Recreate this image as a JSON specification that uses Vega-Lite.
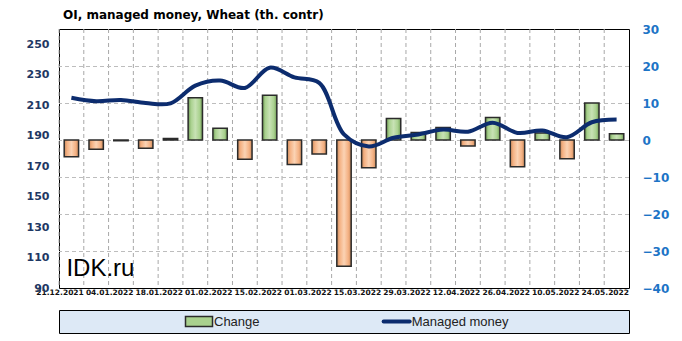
{
  "$schema": "https://vega.github.io/schema/vega-lite/v6.json",
  "background": "white",
  "padding": {"left": 25, "top": 8, "right": 0, "bottom": 0},
  "spacing": 13,
  "config": {
    "view": {"stroke": "black"}
  },
  "datasets": {
    "weekly": [
      {"date": "21.12.2021", "change": -4.5, "mm": 214.9},
      {"date": "28.12.2021", "change": -2.5, "mm": 212.6},
      {"date": "04.01.2022", "change": -0.2, "mm": 213.4},
      {"date": "11.01.2022", "change": -2.2, "mm": 211.4},
      {"date": "18.01.2022", "change": 0.4, "mm": 211.2},
      {"date": "25.01.2022", "change": 11.4, "mm": 222.8},
      {"date": "01.02.2022", "change": 3.2, "mm": 226.2},
      {"date": "08.02.2022", "change": -5.2, "mm": 221.3},
      {"date": "15.02.2022", "change": 12.1, "mm": 234.6},
      {"date": "22.02.2022", "change": -6.6, "mm": 228.2},
      {"date": "01.03.2022", "change": -3.8, "mm": 224.6},
      {"date": "08.03.2022", "change": -34.1, "mm": 190.8},
      {"date": "15.03.2022", "change": -7.5, "mm": 182.9},
      {"date": "22.03.2022", "change": 5.8, "mm": 188.6},
      {"date": "29.03.2022", "change": 2.0, "mm": 190.8},
      {"date": "05.04.2022", "change": 3.4, "mm": 194.0},
      {"date": "12.04.2022", "change": -1.6, "mm": 192.6},
      {"date": "19.04.2022", "change": 6.1, "mm": 198.5},
      {"date": "26.04.2022", "change": -7.2, "mm": 191.8},
      {"date": "03.05.2022", "change": 1.9, "mm": 193.4},
      {"date": "10.05.2022", "change": -5.1, "mm": 189.0},
      {"date": "17.05.2022", "change": 10.0, "mm": 198.8},
      {"date": "24.05.2022", "change": 1.7, "mm": 200.6}
    ],
    "gridlines": [
      {"level": -30}, {"level": -20}, {"level": -10}, {"level": 0}, {"level": 10}, {"level": 20}
    ],
    "legend": [
      {"series": "Change"},
      {"series": "Managed money"}
    ],
    "mark": [
      {"label": "IDK.ru"}
    ]
  },
  "vconcat": [
    {
      "width": 570,
      "height": 259,
      "title": {
        "text": "OI, managed money, Wheat (th. contr)",
        "anchor": "start",
        "frame": "group",
        "font": "DejaVu Sans",
        "fontSize": 12,
        "fontWeight": "bold",
        "color": "#000000",
        "offset": 1,
        "dx": 4
      },
      "view": {"stroke": "black", "strokeWidth": 1},
      "data": {"name": "weekly"},
      "layer": [
        {
          "mark": {"type": "rule", "stroke": "#a8a8a8", "strokeWidth": 1, "strokeDash": [4, 3], "xOffset": -12.39},
          "encoding": {
            "x": {"field": "date", "type": "ordinal", "sort": null}
          }
        },
        {
          "data": {"name": "gridlines"},
          "mark": {"type": "rule", "stroke": "#bdbdbd", "strokeWidth": 1, "strokeDash": [4, 3], "yOffset": 0.5},
          "encoding": {
            "y": {"field": "level", "type": "quantitative", "scale": {"domain": [-40, 30], "nice": false}, "axis": null}
          }
        },
        {
          "mark": {"type": "bar", "width": {"band": 0.58}, "stroke": "#2b2b2b", "strokeWidth": 1.5},
          "encoding": {
            "x": {
              "field": "date",
              "type": "ordinal",
              "sort": null,
              "scale": {"paddingInner": 0, "paddingOuter": 0},
              "axis": {
                "title": null,
                "domain": false,
                "ticks": false,
                "grid": false,
                "bandPosition": 0,
                "labelOffset": 12.4,
                "labelAngle": 0,
                "labelOverlap": false,
                "labelFont": "DejaVu Sans",
                "labelFontSize": 7.5,
                "labelFontWeight": "bold",
                "labelColor": "#111111",
                "labelPadding": 4,
                "labelExpr": "indexof(['21.12.2021','04.01.2022','18.01.2022','01.02.2022','15.02.2022','01.03.2022','15.03.2022','29.03.2022','12.04.2022','26.04.2022','10.05.2022','24.05.2022'], datum.value) >= 0 ? datum.label : ''"
              }
            },
            "y": {
              "field": "change",
              "type": "quantitative",
              "scale": {"domain": [-40, 30], "nice": false},
              "axis": {
                "orient": "right",
                "title": null,
                "domain": false,
                "ticks": false,
                "grid": false,
                "values": [-40, -30, -20, -10, 0, 10, 20, 30],
                "labelOverlap": false,
                "labelFont": "DejaVu Sans",
                "labelFontSize": 12,
                "labelFontWeight": "bold",
                "labelColor": "#1d74c6",
                "labelPadding": 13,
                "labelAlign": "left",
                "labelFlush": false
              }
            },
            "fill": {
              "condition": {
                "test": "datum.change < 0",
                "value": {
                  "gradient": "linear", "x1": 0, "y1": 0, "x2": 1, "y2": 0,
                  "stops": [
                    {"offset": 0, "color": "#c98a5c"},
                    {"offset": 0.2, "color": "#f4b183"},
                    {"offset": 0.5, "color": "#fbd3b4"},
                    {"offset": 0.8, "color": "#f4b183"},
                    {"offset": 1, "color": "#c98a5c"}
                  ]
                }
              },
              "value": {
                "gradient": "linear", "x1": 0, "y1": 0, "x2": 1, "y2": 0,
                "stops": [
                  {"offset": 0, "color": "#6f9a55"},
                  {"offset": 0.2, "color": "#a9d18e"},
                  {"offset": 0.5, "color": "#c8e2b5"},
                  {"offset": 0.8, "color": "#a9d18e"},
                  {"offset": 1, "color": "#6f9a55"}
                ]
              }
            }
          }
        },
        {
          "mark": {"type": "line", "interpolate": "catmull-rom", "strokeWidth": 4, "color": "#0c2c6e"},
          "encoding": {
            "x": {"field": "date", "type": "ordinal", "sort": null},
            "y": {
              "field": "mm",
              "type": "quantitative",
              "scale": {"domain": [90, 260], "nice": false, "zero": false},
              "axis": {
                "orient": "left",
                "title": null,
                "domain": false,
                "ticks": false,
                "values": [90, 110, 130, 150, 170, 190, 210, 230, 250],
                "grid": false,
                "labelOverlap": false,
                "labelFont": "DejaVu Sans",
                "labelFontSize": 11,
                "labelFontWeight": "bold",
                "labelColor": "#1f3864",
                "labelPadding": 10,
                "labelFlush": false
              }
            }
          }
        },
        {
          "data": {"name": "mark"},
          "mark": {"type": "text", "align": "left", "baseline": "alphabetic", "dx": -5, "font": "Liberation Sans", "fontSize": 24, "color": "#000000"},
          "encoding": {
            "x": {"datum": "21.12.2021", "type": "ordinal"},
            "y": {"datum": 98, "type": "quantitative", "scale": {"domain": [90, 260], "nice": false, "zero": false}, "axis": null},
            "text": {"field": "label"}
          }
        }
      ],
      "resolve": {"scale": {"y": "independent"}}
    },
    {
      "width": 570,
      "height": 23,
      "view": {"fill": "#dde9f6", "stroke": "black", "strokeWidth": 1},
      "data": {"name": "legend"},
      "encoding": {
        "x": {
          "field": "series",
          "type": "nominal",
          "sort": null,
          "scale": {"type": "point", "padding": 0.942, "align": 0.376},
          "axis": null
        }
      },
      "layer": [
        {
          "transform": [{"filter": "datum.series === 'Change'"}],
          "mark": {"type": "point", "shape": "M-1,-0.37H1V0.37H-1Z", "size": 729, "filled": true, "fill": "#a9d18e", "stroke": "#2b2b2b", "strokeWidth": 1.5, "opacity": 1}
        },
        {
          "transform": [{"filter": "datum.series === 'Managed money'"}],
          "mark": {"type": "point", "shape": "M-1,0H1", "size": 676, "filled": false, "stroke": "#0c2c6e", "strokeWidth": 4, "strokeCap": "round", "opacity": 1}
        },
        {
          "mark": {"type": "text", "align": "left", "dx": 15, "font": "Liberation Sans", "fontSize": 13, "color": "#222222"},
          "encoding": {"text": {"field": "series"}}
        }
      ]
    }
  ]
}
